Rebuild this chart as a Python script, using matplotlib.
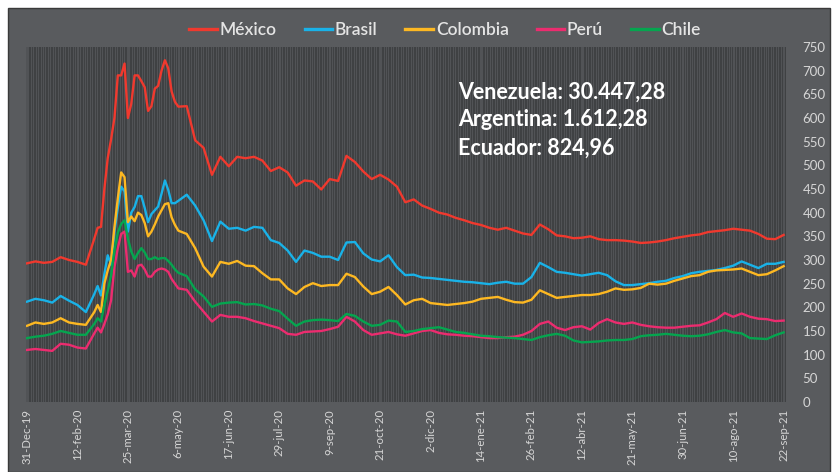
import numpy as np
import matplotlib
matplotlib.use("Agg")
import matplotlib.pyplot as plt
from matplotlib.patches import Rectangle
from matplotlib.lines import Line2D

# ---------------- data (business-day index) -------------
dias = (list(range(0, 41, 5)) + list(range(42, 91, 2)) + list(range(95, 451, 5)))

mexico = [293, 297, 294, 296, 306, 300, 296, 290, 345,
          368, 370, 450, 515, 555, 600, 690, 690, 715, 600, 630, 690, 690, 678, 665,
          615, 625, 662, 668, 700, 722, 705, 656, 634, 624,
          625, 553, 537, 480, 518, 498, 518, 515, 518, 510, 488, 496, 485, 457, 468,
          466, 449, 471, 467, 520, 507, 487, 471, 480, 470, 455, 422, 428, 415,
          408, 400, 396, 389, 384, 378, 374, 368, 364, 368, 362, 356, 353, 375, 365,
          352, 350, 346, 347, 350, 344, 342, 342, 341, 339, 336, 337, 339, 342, 346,
          349, 352, 354, 359, 361, 363, 366, 364, 362, 355, 345, 344, 353]
brasil = [212, 218, 215, 210, 224, 214, 205, 190, 228,
          245, 225, 270, 310, 290, 360, 410, 455, 445, 360, 400, 412, 435, 435, 410,
          380, 397, 405, 413, 440, 468, 448, 420, 420, 425,
          438, 415, 384, 340, 381, 366, 368, 362, 370, 368, 342, 336, 320, 296, 320,
          315, 307, 307, 300, 337, 338, 314, 301, 297, 310, 285, 268, 269, 263,
          262, 260, 258, 256, 254, 253, 251, 249, 252, 254, 250, 250, 264, 294, 285,
          275, 273, 270, 267, 270, 273, 268, 255, 247, 247, 249, 251, 254, 256, 262,
          266, 272, 275, 277, 279, 283, 288, 297, 290, 283, 292, 292, 296]
colombia = [161, 168, 165, 168, 177, 168, 165, 163, 190,
            205, 190, 250, 278, 300, 370, 430, 485, 475, 380, 392, 382, 400, 395, 378,
            350, 360, 375, 392, 405, 418, 420, 390, 374, 362,
            355, 325, 286, 265, 296, 292, 298, 288, 287, 272, 259, 259, 240, 228, 243,
            251, 245, 247, 247, 271, 264, 244, 228, 233, 243, 226, 206, 215, 218,
            209, 207, 205, 207, 209, 212, 218, 220, 222, 216, 211, 210, 216, 236, 228,
            220, 222, 224, 226, 226, 228, 233, 240, 237, 238, 241, 250, 248, 250, 256,
            261, 266, 268, 275, 278, 279, 280, 282, 275, 268, 270, 278, 287]
peru = [110, 112, 110, 108, 123, 121, 115, 113, 145,
        157, 147, 165, 185, 215, 285, 325, 355, 360, 275, 278, 265, 288, 290, 280,
        265, 265, 275, 280, 282, 280, 275, 260, 250, 240,
        237, 212, 191, 170, 184, 180, 180, 177, 171, 166, 161, 156, 144, 142, 148,
        149, 150, 154, 159, 180, 170, 152, 142, 145, 148, 143, 140, 145, 150,
        152, 146, 143, 142, 140, 139, 137, 135, 135, 137, 138, 142, 150, 165, 170,
        157, 152, 158, 160, 153, 167, 175, 168, 165, 168, 163, 160, 158, 157, 157,
        159, 161, 162, 168, 175, 188, 180, 187, 180, 176, 175, 171, 172]
chile = [135, 138, 140, 144, 150, 146, 142, 142, 165,
         177, 170, 205, 235, 268, 320, 358, 376, 384, 345, 318, 302, 315, 325, 316,
         302, 302, 306, 302, 304, 304, 298, 290, 280, 273,
         266, 238, 223, 201, 208, 210, 211, 206, 207, 204, 197, 192, 176, 161, 170,
         173, 174, 173, 171, 186, 182, 170, 161, 163, 172, 170, 148, 150, 154,
         156, 158, 153, 148, 146, 143, 140, 139, 137, 136, 135, 133, 131, 137, 141,
         144, 140, 130, 126, 127, 128, 130, 131, 131, 133, 139, 141, 142, 144, 142,
         140, 139, 140, 143, 148, 152, 147, 145, 135, 134, 133, 141, 147]

series_names = ["México", "Brasil", "Colombia", "Perú", "Chile"]
series_vals = [mexico, brasil, colombia, peru, chile]
series_colors = ["#f0392e", "#19b2e8", "#fdb822", "#ec2c6f", "#05a54f"]

tick_pos = list(range(0, 451, 30))
tick_labels = ["31-Dec-19", "12-feb-20", "25-mar-20", "6-may-20", "17-jun-20",
               "29-jul-20", "9-sep-20", "21-oct-20", "2-dic-20", "14-ene-21",
               "26-feb-21", "12-abr-21", "21-may-21", "30-jun-21", "10-ago-21",
               "22-sep-21"]
n_days = 452
y_ticks = list(range(0, 751, 50))

notes = ["Venezuela: 30.447,28", "Argentina: 1.612,28", "Ecuador: 824,96"]

# ---------------- figure ----------------
W, H = 834, 472
fig = plt.figure(figsize=(W / 100, H / 100), dpi=100, facecolor="white")
bg = Rectangle((8 / W, 0), (830 - 8) / W, (H - 8) / H,
               transform=fig.transFigure, facecolor="#595b5e",
               edgecolor="#3a3a3a", linewidth=1.0, zorder=-10)
fig.add_artist(bg)

ax = fig.add_axes([26 / W, 1 - 402 / H, (786 - 26) / W, (402 - 47) / H])
ax.set_zorder(1)
ax.set_facecolor("#515356")
for s in ax.spines.values():
    s.set_visible(False)

ax.set_xticks(np.arange(n_days), minor=True)
ax.grid(which="minor", axis="x", color="#3f4143", linewidth=0.7)
ax.set_axisbelow(True)

for name, vals, col in zip(series_names, series_vals, series_colors):
    ax.plot(dias, vals, color=col, linewidth=1.7, solid_joinstyle="round", zorder=3)

ax.set_xlim(-0.6, n_days - 0.6)
ax.set_ylim(0, 750)

ax.set_xticks(tick_pos)
ax.set_xticklabels(tick_labels, rotation=90, fontsize=8.2, color="#d6d6d6",
                   family=["Lato", "DejaVu Sans"])
ax.tick_params(axis="x", which="both", length=0, pad=5)

ax.yaxis.tick_right()
ax.set_yticks(y_ticks)
ax.set_yticklabels([str(v) for v in y_ticks], fontsize=9.5, color="#d6d6d6",
                   family=["Lato", "DejaVu Sans"], ha="left")
ax.tick_params(axis="y", length=0, pad=12)

handles = [Line2D([], [], color=c, linewidth=2.4) for c in series_colors]
leg = fig.legend(handles, series_names, loc="center", bbox_to_anchor=(445 / W, 1 - 30 / H),
                 ncol=5, frameon=False, handlelength=1.6, handletextpad=0.15,
                 columnspacing=1.6, prop={"family": "Lato", "size": 12.5, "weight": "semibold"},
                 labelcolor="#e4e4e4")
leg.set_zorder(5)

for i, t in enumerate(notes):
    fig.text(458 / W, 1 - (92 + i * 28) / H, t, color="white", fontsize=15.5,
             fontweight="bold", family=["Lato", "DejaVu Sans"], va="center", ha="left",
             zorder=5)

fig.savefig("out.png", dpi=100, facecolor="white")
